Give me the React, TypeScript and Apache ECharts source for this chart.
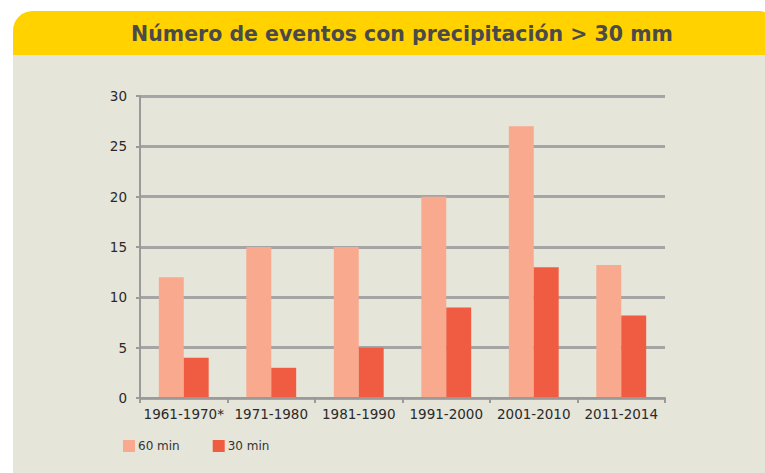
import React, { useEffect, useRef } from "react";
import * as echarts from "echarts";

const categories = ["1961-1970*", "1971-1980", "1981-1990", "1991-2000", "2001-2010", "2011-2014"];
const series60 = [12, 15, 15, 20, 27, 13.2];
const series30 = [4, 3, 5, 9, 13, 8.2];
const seriesNames = ["60 min", "30 min"];
const titleText = "Número de eventos con precipitación > 30 mm";

export default function App() {
  const ref = useRef<HTMLDivElement>(null);
  useEffect(() => {
    document.body.style.margin = "0";
    const chart = echarts.init(ref.current!, null, { renderer: "svg" });
    chart.setOption({
      animation: false,
      backgroundColor: "#ffffff",
      graphic: [
        {
          type: "rect",
          z: -10,
          silent: true,
          shape: { x: 13, y: 11, width: 760, height: 480, r: [20, 14, 0, 20] },
          style: { fill: "#E6E5DA" },
        },
        {
          type: "rect",
          z: -9,
          silent: true,
          shape: { x: 13, y: 11, width: 760, height: 44, r: [20, 14, 0, 0] },
          style: { fill: "#FFD200" },
        },
      ],
      title: {
        text: titleText,
        left: 402,
        top: 23,
        padding: 0,
        textAlign: "center",
        textStyle: {
          fontFamily: "DejaVu Sans",
          fontWeight: "bold",
          fontSize: 20.5,
          color: "#4a4a4a",
        },
      },
      legend: {
        left: 123,
        top: 440,
        padding: 0,
        itemWidth: 12,
        itemHeight: 12,
        itemGap: 33,
        icon: "rect",
        data: seriesNames,
        textStyle: { fontFamily: "DejaVu Sans", fontSize: 12, color: "#333", padding: [0, 0, 0, -2] },
      },
      grid: { left: 140, right: 100, top: 96, bottom: 75, containLabel: false },
      xAxis: {
        type: "category",
        data: categories,
        axisLine: { show: true, lineStyle: { color: "#9a9a9a", width: 2 } },
        axisTick: { show: true, alignWithLabel: false, length: 5, lineStyle: { color: "#9a9a9a", width: 2 } },
        axisLabel: { fontFamily: "DejaVu Sans", fontSize: 13.5, color: "#2a2a2a", margin: 9, interval: 0 },
        z: 5,
      },
      yAxis: {
        type: "value",
        min: 0,
        max: 30,
        interval: 5,
        axisLine: { show: true, lineStyle: { color: "#9a9a9a", width: 2 } },
        axisTick: { show: true, length: 4, lineStyle: { color: "#9a9a9a", width: 2 } },
        axisLabel: { fontFamily: "DejaVu Sans", fontSize: 13.5, color: "#2a2a2a", margin: 13 },
        splitLine: { show: true, lineStyle: { color: "#a5a5a5", width: 3 } },
      },
      series: [
        {
          name: seriesNames[0],
          type: "bar",
          data: series60,
          barGap: "0%",
          barCategoryGap: "43%",
          itemStyle: { color: "#F9A98E" },
          z: 3,
        },
        {
          name: seriesNames[1],
          type: "bar",
          data: series30,
          itemStyle: { color: "#F05C42" },
          z: 3,
        },
      ],
    });
    return () => chart.dispose();
  }, []);
  return <div ref={ref} style={{ width: 765, height: 473 }} />;
}
